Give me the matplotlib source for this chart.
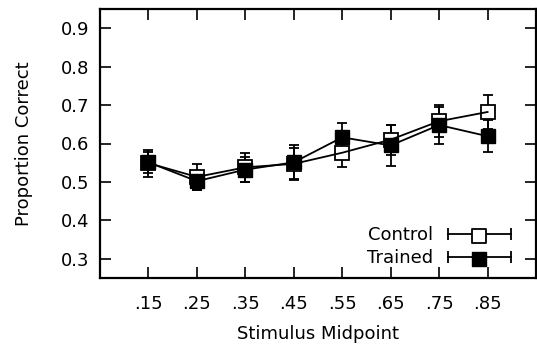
import numpy as np
import matplotlib
matplotlib.use("Agg")
import matplotlib.pyplot as plt
from matplotlib.lines import Line2D
from matplotlib.legend_handler import HandlerLine2D, HandlerTuple

plt.rcParams['font.family'] = ['DejaVu Sans']

midpoints = [0.15, 0.25, 0.35, 0.45, 0.55, 0.65, 0.75, 0.85]
tick_labels = ['.15', '.25', '.35', '.45', '.55', '.65', '.75', '.85']

control_mean = [0.549, 0.513, 0.538, 0.547, 0.576, 0.610, 0.658, 0.682]
control_err = [0.035, 0.034, 0.038, 0.041, 0.038, 0.039, 0.041, 0.044]
trained_mean = [0.551, 0.502, 0.532, 0.551, 0.616, 0.595, 0.648, 0.619]
trained_err = [0.027, 0.024, 0.033, 0.044, 0.038, 0.054, 0.048, 0.042]

fs = 13
fig = plt.figure(figsize=(5.37, 3.49), dpi=100)
ax = fig.add_axes([100 / 537, 1 - 278 / 349, 436 / 537, 269 / 349])

lw = 1.3
# error bars first, then squares, lines, filled squares on top
ax.errorbar(midpoints, control_mean, yerr=control_err, fmt='none', ecolor='black',
            elinewidth=lw, capsize=3.4, capthick=lw, zorder=2)
ax.errorbar(midpoints, trained_mean, yerr=trained_err, fmt='none', ecolor='black',
            elinewidth=lw, capsize=3.4, capthick=lw, zorder=2)
ax.plot(midpoints, control_mean, ls='none', marker='s', ms=9.8, mfc='white',
        mec='black', mew=1.3, zorder=3)
ax.plot(midpoints, control_mean, color='black', lw=lw, zorder=4)
ax.plot(midpoints, trained_mean, color='black', lw=lw, zorder=4)
ax.plot(midpoints, trained_mean, ls='none', marker='s', ms=9.8, mfc='black',
        mec='black', zorder=5)

ax.set_xlim(0.05, 0.95)
ax.set_ylim(0.25, 0.95)
ax.set_xticks(midpoints)
ax.set_xticklabels(tick_labels)
ax.set_yticks([0.3, 0.4, 0.5, 0.6, 0.7, 0.8, 0.9])
ax.set_yticklabels(['0.3', '0.4', '0.5', '0.6', '0.7', '0.8', '0.9'])
ax.tick_params(direction='in', length=8, width=1.2, top=True, right=True,
               labelsize=fs)
ax.tick_params(axis='x', pad=12)
ax.tick_params(axis='y', pad=7.5)
for s in ax.spines.values():
    s.set_linewidth(1.6)

ax.set_xlabel('Stimulus Midpoint', fontsize=fs, labelpad=9)
ax.set_ylabel('Proportion Correct', fontsize=fs, labelpad=20)

caps = Line2D([], [], color='black', lw=lw, marker='|', ms=8, mew=lw)
c_sq = ax.scatter([], [], marker='s', s=9.8 ** 2, facecolor='white',
                  edgecolor='black', linewidths=1.3)
t_sq = ax.scatter([], [], marker='s', s=9.8 ** 2, facecolor='black',
                  edgecolor='black')
ax.legend([(caps, c_sq), (caps, t_sq)], ['Control', 'Trained'],
          handler_map={Line2D: HandlerLine2D(numpoints=2),
                       tuple: HandlerTuple(ndivide=1)},
          loc='lower right', bbox_to_anchor=(0.976, 0.006),
          frameon=False, markerfirst=False, fontsize=fs,
          handlelength=4.1, handletextpad=0.5, labelspacing=0.27,
          borderaxespad=0, borderpad=0.5)

fig.savefig('out.png', dpi=100)
